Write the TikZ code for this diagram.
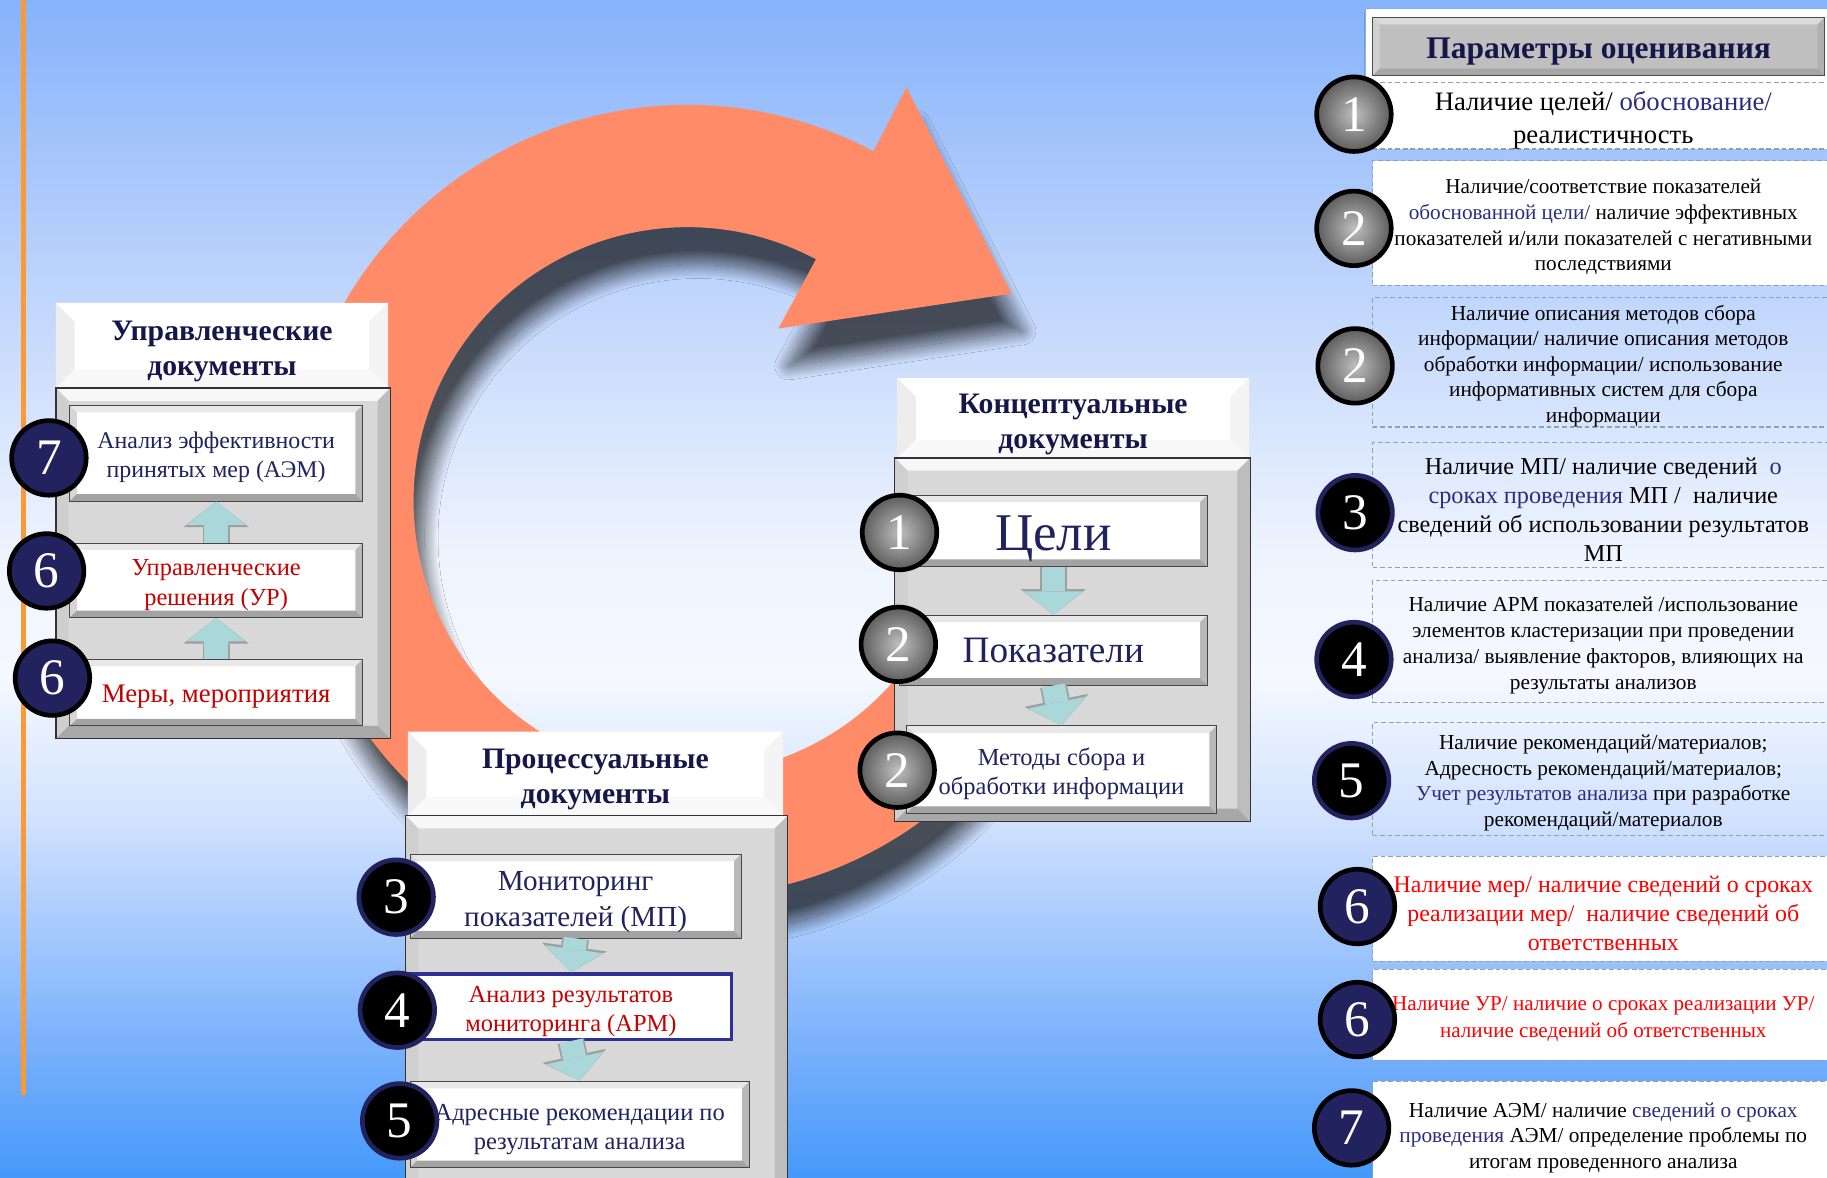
\documentclass[tikz,border=0pt]{standalone}
\usepackage{fontspec}
\setmainfont{Liberation Serif}
\usetikzlibrary{arrows.meta,shadows.blur}

\definecolor{navy}{HTML}{22225F}
\definecolor{navyT}{HTML}{16164A}
\definecolor{hlblue}{HTML}{2C2C7C}
\definecolor{dred}{HTML}{C40000}
\definecolor{bred}{HTML}{FF0000}
\definecolor{ringc}{HTML}{FF8B68}
\definecolor{vline}{HTML}{F99A35}
\definecolor{arrc}{HTML}{A9D7DA}
\definecolor{dashc}{HTML}{8CA3AB}
\definecolor{panelc}{HTML}{D8D8D8}
\definecolor{aprc}{HTML}{2E3192}
\definecolor{bgA}{HTML}{4599FA}
\definecolor{bgB}{HTML}{78B0FC}
\definecolor{bgC}{HTML}{A6C9FD}
\definecolor{bgD}{HTML}{D3E3FE}
\definecolor{bgE}{HTML}{F5F8FF}
\definecolor{bgF}{HTML}{EFF4FE}
\definecolor{bgG}{HTML}{CADCFC}
\definecolor{bgH}{HTML}{A9C7FB}
\definecolor{bgI}{HTML}{86B3FB}

% the path is mapped on 25bp..75bp of the shading
\pgfdeclareverticalshading{bgsh}{100bp}{color(0bp)=(bgA); color(25bp)=(bgA); color(30.5bp)=(bgB); color(35.5bp)=(bgC); color(40.5bp)=(bgD); color(46.3bp)=(bgE); color(51.3bp)=(bgF); color(60.2bp)=(bgG); color(67.6bp)=(bgH); color(75bp)=(bgI); color(100bp)=(bgI)}

\newcommand{\fsz}[2]{\fontsize{#1}{#2}\selectfont}
\newcommand{\fst}{\rule{0pt}{1.05em}}

\tikzset{
  bevel/.style n args={5}{path picture={
    \fill[#2] (path picture bounding box.north west) -- (path picture bounding box.north east)
      -- ([shift={(-#1,-#1)}]path picture bounding box.north east)
      -- ([shift={(#1,-#1)}]path picture bounding box.north west) -- cycle;
    \fill[#3] (path picture bounding box.north west) -- ([shift={(#1,-#1)}]path picture bounding box.north west)
      -- ([shift={(#1,#1)}]path picture bounding box.south west) -- (path picture bounding box.south west) -- cycle;
    \fill[#4] (path picture bounding box.north east) -- ([shift={(-#1,-#1)}]path picture bounding box.north east)
      -- ([shift={(-#1,#1)}]path picture bounding box.south east) -- (path picture bounding box.south east) -- cycle;
    \fill[#5] (path picture bounding box.south west) -- ([shift={(#1,#1)}]path picture bounding box.south west)
      -- ([shift={(-#1,#1)}]path picture bounding box.south east) -- (path picture bounding box.south east) -- cycle;
  }},
  lower/.style={execute at begin node={\rule{0pt}{0.95em}}},
  item/.style={rectangle, fill=white, draw=gray!55!black, line width=0.8pt,
    bevel={6pt}{gray!18}{gray!32}{gray!55}{gray!72}, text=navy, align=center, inner sep=0pt},
  panel/.style={rectangle, fill=panelc, draw=gray!40!black, line width=1pt,
    bevel={11pt}{gray!6}{gray!38}{gray!52}{gray!68}},
  ttl/.style={rectangle, fill=white, bevel={16pt}{white}{gray!14}{gray!9}{gray!5},
    text=navyT, align=center, font=\bfseries\fsz{25.5}{30}},
  num/.style={circle, minimum size=64pt, inner sep=0pt, line width=4pt, text=white, font=\fsz{44}{44}},
  numgray/.style={num, draw=black, inner color=gray!50, outer color=gray!72!black},
  numblack/.style={num, draw=navy, fill=black},
  numnavy/.style={num, draw=black, fill=navy},
  row/.style={rectangle, draw=dashc, line width=1.2pt, dash pattern=on 4pt off 2.5pt,
    minimum width=396pt, align=center, inner sep=0pt},
  blockarr/.style={draw=arrc, line width=20pt, -{Triangle[width=50pt,length=20pt,line width=0pt]},
    preaction={draw=gray!75, line width=23pt, -{Triangle[width=56pt,length=22pt,line width=0pt]}}}
}

\begin{document}
\begin{tikzpicture}[x=1pt,y=-1pt]
  \useasboundingbox (0,0) rectangle (1568,1011);
  \clip (0,0) rectangle (1568,1011);
  \shade[shading=bgsh] (0,0) rectangle (1568,1011);
  \draw[vline, line width=4pt] (20,0) -- (20,940);

  % cycle arrow
  \fill[ringc, blur shadow={shadow xshift=9pt, shadow yshift=-32pt, shadow blur radius=12pt, shadow blur steps=30, shadow opacity=65}]
    (868.5,625) arc[start angle=35, end angle=298, radius=340]
    -- (778,75) -- (868,252) -- (668,282)
    -- (700.3,222.5) arc[start angle=298, end angle=35, radius=235] -- cycle;

  % управленческие
  \node[ttl, minimum width=285pt, minimum height=73pt] (uT) at (190.5,296.5) {\fst Управленческие\\документы};
  \node[panel, minimum width=287pt, minimum height=301pt] (uP) at (191.5,483.5) {};
  \node[item, minimum width=251pt, minimum height=82pt, font=\fsz{20.5}{25}] (u1) at (185.5,389) {\fst Анализ эффективности\\принятых мер (АЭМ)};
  \node[item, minimum width=251pt, minimum height=64pt, font=\fsz{21}{25}, text=dred] (u2) at (185.5,498) {\fst Управленческие\\решения (УР)};
  \node[item, lower, minimum width=251pt, minimum height=57pt, font=\fsz{23}{27}, text=dred] (u3) at (185.5,594.5) {Меры, мероприятия};
  \draw[blockarr] (u2.north) -- (u1.south);
  \draw[blockarr] (u3.north) -- (u2.south);
  \node[numnavy] (nu1) at (42,393) {7};
  \node[numnavy] (nu2) at (40,490) {6};
  \node[numnavy] (nu3) at (45,582) {6};

  % процессуальные
  \node[ttl, minimum width=322pt, minimum height=72pt] (pT) at (511,664) {\fst Процессуальные\\документы};
  \node[panel, minimum width=328pt, minimum height=340pt] (pP) at (512,870) {};
  \node[item, minimum width=284pt, minimum height=72pt, font=\fsz{25}{31}] (p1) at (494,769) {\fst Мониторинг\\показателей (МП)};
  \node[rectangle, fill=white, draw=aprc, line width=3pt, align=center, inner sep=0pt, minimum width=276pt, minimum height=56pt, font=\fsz{21}{25}, text=dred] (p2) at (490,864) {\fst Анализ результатов\\мониторинга (АРМ)};
  \node[item, minimum width=291pt, minimum height=74pt, font=\fsz{21}{25}] (p3) at (497.5,965) {\fst Адресные рекомендации по\\результатам анализа};
  \draw[blockarr] (p1.south) -- (p2.north);
  \draw[blockarr] (p2.south) -- (p3.north);
  \node[numblack] (np1) at (340,770) {3};
  \node[numblack] (np2) at (341,867) {4};
  \node[numblack] (np3) at (343,962) {5};

  % концептуальные
  \node[ttl, minimum width=302pt, minimum height=68pt] (kT) at (921,359) {\fst Концептуальные\\документы};
  \node[panel, minimum width=305pt, minimum height=312pt] (kP) at (920.5,549) {};
  \node[item, lower, minimum width=264pt, minimum height=61pt, font=\fsz{45.5}{48}] (k1) at (904,455.5) {Цели};
  \node[item, minimum width=264pt, minimum height=60pt, font=\fsz{32}{36}] (k2) at (904,558) {Показатели};
  \node[item, minimum width=266pt, minimum height=75pt, font=\fsz{21}{25}] (k3) at (911,660.5) {\fst Методы сбора и\\обработки информации};
  \draw[blockarr] (k1.south) -- (k2.north);
  \draw[blockarr] (k2.south) -- (k3.north);
  \node[numgray] (nk1) at (772,457) {1};
  \node[numgray] (nk2) at (771,553) {2};
  \node[numgray] (nk3) at (770,661) {2};

  % параметры оценивания
  \fill[white, blur shadow={shadow xshift=3pt, shadow yshift=-3pt, shadow blur radius=4pt, shadow opacity=30}] (1172,8) rectangle (1590,72);
  \node[rectangle, fill=gray!50, draw=gray!60!black, line width=0.8pt, bevel={6pt}{gray!28}{gray!36}{gray!62}{gray!70}, lower,
    minimum width=388pt, minimum height=50pt, text=navyT, font=\bfseries\fsz{27}{30}] (rT) at (1372,40) {Параметры оценивания};

  \node[row, fill=white, minimum height=55pt, font=\fsz{22.9}{28}] (r1) at (1376,99.5) {\fst Наличие целей/ \textcolor{hlblue}{обоснование/}\\реалистичность};
  \node[row, fill=white, minimum height=107pt, font=\fsz{18.2}{22}] (r2) at (1376,191.5) {\fst Наличие/соответствие показателей\\\textcolor{hlblue}{обоснованной цели/} наличие эффективных\\показателей и/или показателей с негативными\\последствиями};
  \node[row, minimum height=108pt, font=\fsz{18.3}{22}] (r3) at (1376,311) {\fst Наличие описания методов сбора\\информации/ наличие описания методов\\обработки информации/ использование\\информативных систем для сбора\\информации};
  \node[row, minimum height=107pt, font=\fsz{20.8}{25}] (r4) at (1376,433.5) {\fst Наличие МП/ наличие сведений \ \textcolor{hlblue}{о}\\\textcolor{hlblue}{сроках проведения} МП / \ наличие\\сведений об использовании результатов\\МП};
  \node[row, minimum height=105pt, font=\fsz{18.3}{22.5}] (r5) at (1376,550.5) {\fst Наличие АРМ показателей /использование\\элементов кластеризации при проведении\\анализа/ выявление факторов, влияющих на\\результаты анализов};
  \node[row, minimum height=97pt, font=\fsz{18.3}{22}] (r6) at (1376,668.5) {\fst Наличие рекомендаций/материалов;\\Адресность рекомендаций/материалов;\\\textcolor{hlblue}{Учет результатов анализа} при разработке\\рекомендаций/материалов};
  \node[row, fill=white, minimum height=90pt, font=\fsz{20.5}{25}, text=bred] (r7) at (1376,780) {\fst Наличие мер/ наличие сведений о сроках\\реализации мер/ \ наличие сведений об\\ответственных};
  \node[row, fill=white, minimum height=78pt, font=\fsz{18.1}{23}, text=bred] (r8) at (1376,871) {\fst Наличие УР/ наличие о сроках реализации УР/\\наличие сведений об ответственных};
  \node[row, fill=white, minimum height=90pt, font=\fsz{18.3}{22}] (r9) at (1376,973) {\fst Наличие АЭМ/ наличие \textcolor{hlblue}{сведений о сроках}\\\textcolor{hlblue}{проведения} АЭМ/ определение проблемы по\\итогам проведенного анализа};

  \node[numgray] (nr1) at (1162,98) {1};
  \node[numgray] (nr2) at (1162,196) {2};
  \node[numgray] (nr3) at (1163,314) {2};
  \node[numblack] (nr4) at (1163,440) {3};
  \node[numblack] (nr5) at (1162,566) {4};
  \node[numblack] (nr6) at (1160,670) {5};
  \node[numnavy] (nr7) at (1165,778) {6};
  \node[numnavy] (nr8) at (1165,875) {6};
  \node[numnavy] (nr9) at (1160,968) {7};
\end{tikzpicture}
\end{document}
